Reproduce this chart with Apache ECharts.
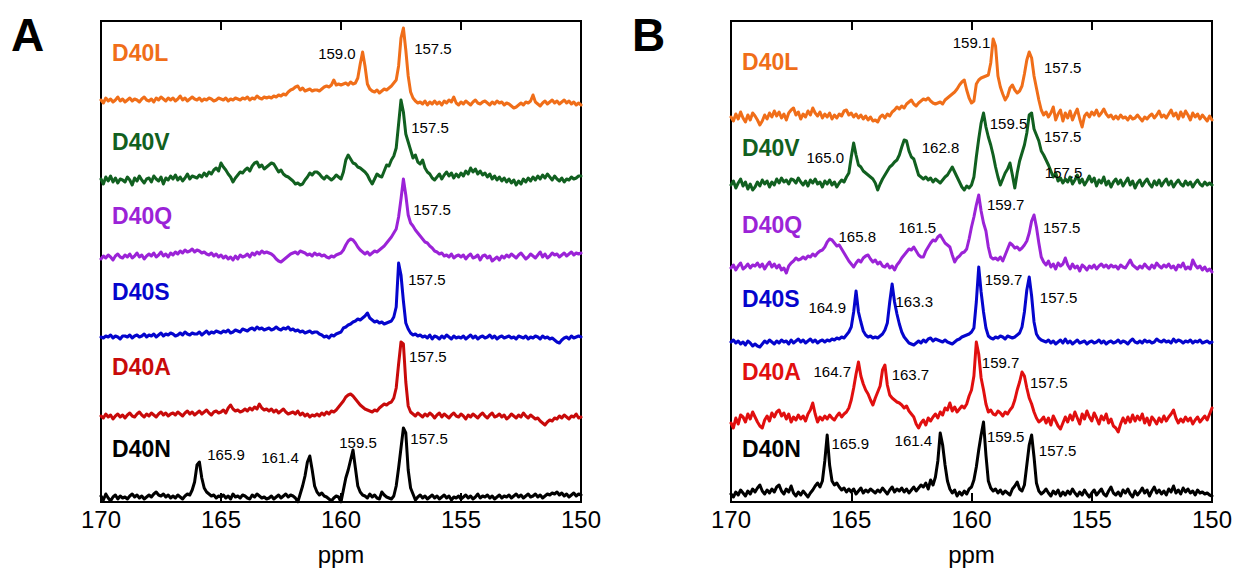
<!DOCTYPE html>
<html>
<head>
<meta charset="utf-8">
<title>13C NMR spectra of D40 variants</title>
<script src="https://cdn.jsdelivr.net/npm/echarts@6/dist/echarts.min.js"></script>
<style>
  html, body { margin: 0; padding: 0; background: #fff; }
  #chart { width: 1239px; height: 571px; }
</style>
</head>
<body>
<div id="chart"></div>
<script>
// Chemical-shift sampling of every trace: 170 ppm down to 150 ppm in 0.1 ppm steps
const ppmStart = 170;
const ppmStep = 0.1;
const axisTicks = [170, 165, 160, 155, 150];
const sampleNames = ['D40L', 'D40V', 'D40Q', 'D40S', 'D40A', 'D40N'];

// ---- Panel A intensities (arbitrary units above each trace's baseline) ----
const aD40L = [
  4,1,6,3,5,2,4,7,3,5, 2,4,6,3,5,4,2,5,7,4, 3,5,2,6,4,7,5,3,6,4, 6,3,5,8,4,6,3,5,7,5,
  4,6,3,5,4,6,5,3,4,6, 5,4,6,3,5,4,6,5,4,6, 5,7,4,6,5,8,6,5,7,6, 7,6,8,7,9,8,10,9,12,14,
  15,17,18,14,16,13,14,15,13,14, 14,13,15,17,18,17,19,24,19,20, 19,20,21,19,22,20,21,26,40,52,
  38,20,15,13,12,14,11,13,15,14, 16,18,21,24,38,66,76,54,28,12, 6,3,1,2,0,3,-1,2,0,3,
  0,2,-1,3,1,4,2,7,1,-1, 2,0,3,1,-1,2,4,1,0,2, 3,1,-1,2,0,3,1,2,-1,1, 0,-2,-4,-3,-1,1,-1,2,1,3,
  9,2,0,-2,1,3,0,2,4,1, 3,0,2,4,1,3,0,2,-1,1,-1
];
const aD40V = [
  3,-2,5,1,6,0,4,-1,3,2, 0,5,2,-3,4,1,6,2,-1,3, 4,0,6,3,1,5,-2,4,2,6, 3,7,2,5,1,4,8,3,6,5,
  4,7,5,9,6,10,8,12,14,11, 19,15,12,8,5,0,4,7,10,9, 12,14,11,16,19,20,15,17,13,15, 17,19,18,14,10,12,8,6,5,3,
  1,-2,-1,-3,-2,2,5,9,7,10, 10,8,5,3,6,4,2,4,7,5, 3,10,22,27,23,19,18,15,14,12,
  10,7,2,-2,3,8,6,5,11,17, 16,22,26,34,58,82,70,48,40,32, 24,27,20,18,22,14,10,8,4,2,
  5,8,3,7,10,6,9,4,8,5, 9,6,11,8,14,10,13,8,11,7, 9,5,8,3,6,2,5,1,4,0, 3,-1,2,-3,1,-2,3,0,4,1,
  5,2,6,3,7,4,8,5,2,6, 3,1,4,0,3,2,5,3,4,6,6
];
const aD40Q = [
  -2,1,-1,2,0,-3,1,3,0,-1, 2,0,3,-1,1,4,0,2,-2,1, 3,1,4,0,2,5,1,3,0,4, 2,5,3,6,4,7,5,6,8,5,
  7,6,4,5,3,2,4,1,3,0, 2,-1,1,-2,0,-3,1,-2,2,0, 1,3,0,4,2,5,3,6,4,5, 4,3,1,-2,-4,-5,-3,-1,1,3,
  4,5,3,6,5,4,2,3,1,4, 2,3,1,2,0,-1,1,0,2,3, 4,7,12,16,18,17,14,10,7,5,
  3,5,2,4,6,5,7,9,11,14, 17,20,24,28,40,58,78,62,42,34, 31,27,24,21,18,15,14,11,9,6,
  5,3,4,1,2,0,3,-1,1,2, 0,2,-2,1,3,-1,0,2,-3,1, 2,-1,1,-4,-2,0,-3,1,-1,2, 0,3,1,-1,2,4,1,-2,0,3,
  1,-1,2,5,0,3,-1,1,4,2, 3,0,2,4,1,3,5,2,4,3,4
];
const aD40S = [
  0,-1,1,0,2,-1,1,0,-2,1, 1,0,2,-1,1,2,0,1,3,0, 2,1,3,0,2,4,1,3,2,4, 3,1,2,4,2,5,3,2,4,3,
  3,5,2,4,6,3,5,4,6,5, 4,6,5,7,4,5,7,6,5,8, 7,6,8,9,7,10,8,9,7,8, 9,7,8,10,8,7,9,8,10,7,
  8,6,7,5,6,4,5,6,4,5, 5,3,2,0,1,-1,2,1,3,4, 5,9,10,12,13,15,16,18,17,19,
  21,24,19,17,15,16,14,15,13,14, 15,16,20,30,74,62,36,14,8,4, 2,3,1,2,0,1,-1,2,-2,1,
  0,-2,1,-1,2,0,-2,1,-1,0, -1,1,-2,0,2,-1,1,-2,0,1, -1,0,2,-1,1,-2,0,1,-1,0, 1,-1,0,-2,1,0,-1,1,-2,0,
  -1,1,0,-2,1,-1,0,-2,-1,-3, -5,-6,-3,-1,0,-2,1,-1,0,1,0
];
const aD40A = [
  0,-2,2,-1,1,-3,0,2,-1,1, -2,1,3,0,-1,2,4,1,-1,2, 0,3,1,-1,2,4,1,3,0,2, 3,1,4,2,0,3,5,2,4,1,
  3,5,2,4,6,3,1,4,5,3, 4,6,3,8,11,7,5,6,4,5, 7,5,8,6,9,7,12,8,6,7, 5,7,4,6,3,5,7,4,2,3,
  4,2,5,1,3,0,2,-1,1,0, 2,0,3,1,4,2,5,4,6,9, 12,15,19,21,22,20,17,14,11,9,
  7,6,5,4,6,5,8,10,12,11, 13,14,18,28,52,74,72,34,10,4, 2,0,3,1,-1,2,0,3,1,-2,
  1,3,-1,2,0,-2,1,3,0,-1, 2,0,-3,1,-1,2,0,-2,1,3, 0,-2,1,3,-1,0,2,-1,1,-3, -1,2,0,-2,1,-1,3,0,-2,1,
  -1,-3,-2,-5,-7,-9,-6,-4,-5,-2, -3,0,-2,1,-1,-3,0,-1,2,-2,-1
];
const aD40N = [
  2,-2,4,0,-3,1,3,-1,2,0, 1,-1,2,4,1,3,0,2,-1,1, 3,1,4,6,3,2,4,1,3,0, 2,0,3,1,-1,2,4,3,8,16,
  33,36,20,10,6,4,2,3,0,2, 1,3,0,2,-1,4,1,2,0,3, 2,0,-1,3,1,4,2,0,1,-1, 0,2,-1,1,3,0,2,4,1,3,
  2,0,-4,4,12,22,36,42,28,12, 6,3,5,2,1,-1,-3,0,2,1, -4,8,20,28,38,48,30,12,6,3,
  2,0,4,1,3,0,-1,6,3,1, 0,-1,2,12,30,50,70,65,28,10, 4,-2,1,3,0,2,-1,1,3,0,
  2,-1,1,3,0,2,-2,1,0,2, -1,1,3,0,2,-1,1,4,0,2, 1,3,0,2,-1,1,3,0,2,1, 3,0,2,4,1,3,0,2,4,1,
  2,4,1,3,0,2,4,3,5,4, 6,3,5,2,4,1,3,5,2,4,3
];

// ---- Panel B intensities ----
const bD40L = [
  1,-3,4,-1,6,0,-4,3,-2,5, 2,-2,-7,-3,3,-1,5,1,7,2, 6,0,4,-2,5,8,10,3,6,-1, 4,1,7,3,10,5,2,6,0,4,
  1,5,-1,3,0,4,2,7,8,3, 5,1,4,0,3,-1,2,-2,1,-3, -2,-4,1,3,0,4,2,6,8,11, 9,12,10,14,16,18,14,12,15,17,
  19,18,20,17,15,14,15,16,14,18, 20,22,24,26,29,33,36,38,28,20, 15,17,34,38,40,41,42,43,55,79,
  72,42,31,24,18,22,30,33,28,25, 27,32,44,58,66,60,42,30,18,8, 3,6,1,5,11,-2,4,8,-3,5,
  0,7,-2,4,9,-1,-9,2,5,1, 6,3,8,2,5,9,4,1,3,-1, 2,-1,3,0,1,-2,2,-1,0,3, 0,-3,1,-1,2,4,0,3,7,1,
  3,0,4,8,2,5,-1,6,1,7, 3,-2,5,1,4,-1,3,0,-3,2,-2
];
const bD40V = [
  0,4,-3,2,6,-1,3,-4,1,-5, -2,3,-1,5,1,4,-2,3,0,6, 2,7,3,5,1,6,5,2,7,3, 0,4,-1,5,2,6,1,3,-2,4,
  1,5,0,3,-2,2,5,3,8,12, 28,42,30,20,18,14,12,10,8,6, 2,-5,1,6,10,14,18,20,23,25, 30,38,45,44,34,28,26,18,10,8,
  6,8,5,7,3,6,4,2,5,8, 10,14,18,13,8,3,-2,-5,-1,-3, 0,8,28,46,62,72,58,48,40,30,
  18,8,0,6,12,16,22,10,-3,12, 24,32,40,52,70,72,56,50,44,34, 30,25,20,14,8,12,4,7,2,6,
  3,8,1,5,10,2,6,0,4,9, 3,7,-1,5,2,8,0,4,-2,3, 6,1,5,-1,3,7,0,4,-3,2, 5,-1,3,6,1,-2,4,0,5,-1,
  3,6,0,4,-2,2,5,1,-1,4, 0,3,-2,2,5,1,-1,3,0,2,0
];
const bD40Q = [
  -1,2,-3,1,4,-2,0,3,-1,2, 1,4,0,3,-2,2,5,0,3,-1, 2,-3,-1,-6,1,4,6,9,7,8, 10,8,11,10,13,11,14,16,17,20,
  25,28,27,24,21,22,18,14,10,6, 3,0,4,7,5,9,11,12,8,5, 7,3,5,1,0,3,-1,1,-3,2, 5,9,12,15,18,17,20,16,12,10,
  10,16,20,24,27,26,30,32,28,24, 22,20,12,5,9,11,14,15,18,28, 40,50,62,72,56,44,36,20,10,8,
  9,7,10,6,12,18,24,22,19,20, 17,19,22,26,34,46,52,40,24,10, 5,2,6,0,3,-2,4,1,3,9,
  2,-2,3,-1,1,-4,2,0,-3,1, -1,2,-2,1,3,0,2,-1,2,0, 1,-2,2,0,-1,3,7,2,0,-2, 1,-1,3,0,-2,2,-1,4,1,-1,
  2,0,3,-1,1,-3,2,0,4,-2, 0,-2,7,2,-1,1,-3,0,-4,-2,-5
];
const bD40S = [
  0,2,-1,1,-2,0,-3,1,-1,-4, -2,-4,-5,-2,1,-1,2,0,-2,1, -1,2,0,1,-2,2,-1,1,3,0, 2,-1,1,3,0,2,-1,1,2,0,
  2,1,3,2,4,3,5,4,7,10, 15,30,51,30,20,11,7,5,6,4, 5,4,6,8,12,19,40,58,40,28, 18,10,5,2,-1,-2,-3,-1,1,-1,
  2,0,3,4,1,3,2,1,0,2, 0,-1,-2,0,2,3,5,6,7,8, 10,14,40,75,50,30,14,6,4,3,
  5,4,6,5,3,6,5,4,5,7, 9,15,30,52,65,46,20,8,4,2, 1,0,2,-1,1,-2,0,2,-1,3,
  -1,1,-2,0,2,-1,0,1,-2,0, 1,-1,0,2,-1,1,-2,0,1,-1, 0,2,-1,1,0,-2,1,3,0,-1, 1,-1,2,0,1,-1,0,3,1,0,
  2,0,1,-1,3,0,2,1,-1,1, 0,2,-1,1,0,2,-1,0,1,-1,0
];
const bD40A = [
  -3,-8,2,-4,5,3,-2,6,1,8, 3,-2,-6,-8,0,4,-1,7,3,8, 10,4,7,1,6,-2,3,0,5,1, 4,-1,6,10,17,6,-2,3,0,4,
  1,5,2,0,4,7,3,6,8,12, 20,32,46,58,44,36,30,26,20,15, 22,28,34,50,55,35,25,22,20,18, 17,15,12,14,9,6,3,-4,-8,-3,
  0,-5,2,-1,3,6,2,8,5,12, 10,17,9,13,8,11,14,12,16,24, 30,44,78,66,42,30,16,8,10,6,
  5,9,7,4,8,6,10,13,20,30, 38,48,44,32,22,16,8,2,-2,0, 3,-3,2,-5,4,-1,-6,-9,-3,3,
  -2,5,0,8,2,-4,6,1,9,3, -1,7,2,-4,4,0,6,-3,1,-6, -8,-12,-4,2,-3,3,-2,5,-1,4, 0,6,-3,2,-5,3,0,-4,2,-2,
  4,-1,3,6,10,2,-3,1,-2,3, -1,2,-4,0,3,-2,1,4,0,6,12
];
const bD40N = [
  1,-2,3,0,5,2,-1,4,1,6, 3,7,10,4,1,5,2,6,3,8, 10,4,1,6,3,9,2,-1,3,0, 4,1,-2,2,5,9,12,8,14,34,
  60,30,14,10,12,8,5,7,3,6, 3,6,1,4,7,2,5,3,6,4, 2,5,3,7,4,1,5,8,3,6, 4,7,3,6,2,5,8,4,7,10,
  8,12,6,15,10,18,34,62,50,30, 14,6,2,5,-1,3,0,4,1,6, 8,15,28,45,60,73,40,14,7,4,
  6,2,5,1,4,2,0,6,9,13, 6,4,10,30,50,60,38,12,4,1, 3,6,2,-1,4,1,5,-1,3,0,
  4,1,6,2,-1,3,0,5,1,-2, 2,5,0,3,6,1,-1,4,8,2, 0,3,-1,5,2,6,1,-2,4,0, 3,7,2,5,-1,4,8,2,5,1,
  4,0,6,3,9,2,5,1,7,3, 6,2,4,0,5,2,3,1,2,0,-1
];

// Vertical stacking of the traces (same order as sampleNames)
const stackA = [398, 320, 245, 165, 86, 4];
const stackB = [384, 317, 235, 160, 82, 7];

// Peak annotations (chemical shift text) per trace
const peakTextA = [['159.0', '157.5'], ['157.5'], ['157.5'], ['157.5'], ['157.5'], ['165.9', '161.4', '159.5', '157.5']];
const peakTextB = [
  ['159.1', '157.5'],
  ['165.0', '162.8', '159.5', '157.5', '157.5'],
  ['165.8', '161.5', '159.7', '157.5'],
  ['164.9', '163.3', '159.7', '157.5'],
  ['164.7', '163.7', '159.7', '157.5'],
  ['165.9', '161.4', '159.5', '157.5']
];

// ---- layout and styling ----
const FONT = '"Liberation Sans", Arial, Helvetica, sans-serif';
const traceColorsA = ['#f06e19', '#116020', '#9b23d7', '#0505cd', '#c80a0a', '#000000'];
const traceColorsB = ['#f06e19', '#116020', '#9b23d7', '#0505cd', '#e10f0f', '#000000'];
// where each annotation sits, in [ppm, axis units]
const peakSpotsA = [
  [[160.17, 449], [156.17, 454]],
  [[156.29, 375]],
  [[156.21, 293]],
  [[156.42, 223]],
  [[156.38, 146]],
  [[164.79, 48], [162.54, 45], [159.29, 60], [156.33, 64]]
];
const peakSpotsB = [
  [[160.0, 460], [156.21, 435]],
  [[166.08, 345], [161.29, 355], [158.46, 379], [156.21, 366], [156.17, 330]],
  [[164.75, 266], [162.25, 275], [158.58, 298], [156.25, 275]],
  [[166.0, 195], [162.38, 201], [158.67, 223], [156.38, 205]],
  [[165.79, 131], [162.54, 128], [158.79, 140], [156.79, 120]],
  [[165.04, 59], [162.42, 62], [158.58, 66], [156.42, 52]]
];
const nameSpotsA = [449, 360, 286, 210, 135, 53];
const nameSpotsB = [440, 354, 277, 203, 130, 53];
const nameX = 169.54;

function ppmAt(i) {
  return Math.round((ppmStart - i * ppmStep) * 10) / 10;
}

const grids = [
  { left: 101, top: 21, width: 480, height: 481 },
  { left: 731, top: 21, width: 481, height: 481 }
].map(g => Object.assign(g, {
  show: true, borderColor: '#000', borderWidth: 2, backgroundColor: 'transparent',
  containLabel: false, outerBoundsMode: 'none'
}));

const xAxes = [];
const yAxes = [];
[0, 1].forEach(p => {
  const common = {
    gridIndex: p, type: 'value', min: axisTicks[axisTicks.length - 1], max: axisTicks[0],
    interval: 5, inverse: true,
    axisLine: { show: true, lineStyle: { color: '#000', width: 2 } },
    axisTick: { show: true, inside: true, length: 9, lineStyle: { color: '#000', width: 2 } },
    splitLine: { show: false }
  };
  xAxes.push(Object.assign({}, common, {
    position: 'bottom',
    axisLabel: { show: true, fontSize: 24, color: '#000', fontFamily: FONT, margin: 5 },
    name: 'ppm', nameLocation: 'middle', nameGap: 40,
    nameTextStyle: { fontSize: 24, color: '#000', fontFamily: FONT }
  }));
  xAxes.push(Object.assign({}, common, {
    position: 'top', axisLabel: { show: false }
  }));
  yAxes.push({
    gridIndex: p, type: 'value', min: 0, max: 481, show: false,
    splitLine: { show: false }
  });
});

const series = [];
function addPanel(p, spectra, stack, colors, peakText, peakSpots, nameSpots) {
  spectra.forEach((vals, k) => {
    series.push({
      type: 'line', xAxisIndex: 2 * p, yAxisIndex: p,
      name: sampleNames[k],
      data: vals.map((v, i) => [ppmAt(i), v + stack[k]]),
      symbol: 'none', showSymbol: false, silent: true, z: 2,
      lineStyle: { color: colors[k], width: 3, opacity: 1, join: 'round', cap: 'round' }
    });
  });
  // peak shift annotations
  const notes = [];
  peakText.forEach((texts, k) => texts.forEach((t, j) => {
    notes.push({ value: peakSpots[k][j], name: t });
  }));
  series.push({
    type: 'scatter', xAxisIndex: 2 * p, yAxisIndex: p, symbolSize: 0, silent: true, z: 5,
    itemStyle: { opacity: 1 },
    data: notes,
    label: {
      show: true, position: 'inside', formatter: '{b}', color: '#000', opacity: 1,
      fontSize: 15, fontFamily: FONT, align: 'center', verticalAlign: 'middle'
    }
  });
  // sample names
  series.push({
    type: 'scatter', xAxisIndex: 2 * p, yAxisIndex: p, symbolSize: 0, silent: true, z: 5,
    itemStyle: { opacity: 1 },
    data: sampleNames.map((n, k) => ({
      value: [nameX, nameSpots[k]], name: n,
      label: { color: colors[k] }
    })),
    label: {
      show: true, position: 'right', distance: 0, formatter: '{b}', opacity: 1,
      fontSize: 23, fontWeight: 'bold', fontFamily: FONT, verticalAlign: 'middle'
    }
  });
}

addPanel(0, [aD40L, aD40V, aD40Q, aD40S, aD40A, aD40N], stackA, traceColorsA, peakTextA, peakSpotsA, nameSpotsA);
addPanel(1, [bD40L, bD40V, bD40Q, bD40S, bD40A, bD40N], stackB, traceColorsB, peakTextB, peakSpotsB, nameSpotsB);

const chart = echarts.init(document.getElementById('chart'), null, { renderer: 'svg' });
chart.setOption({
  backgroundColor: '#fff',
  animation: false,
  grid: grids,
  xAxis: xAxes,
  yAxis: yAxes,
  series: series,
  graphic: [
    { type: 'text', left: 11, top: 12, style: { text: 'A', font: 'bold 46px ' + FONT, fill: '#000' } },
    { type: 'text', left: 632, top: 12, style: { text: 'B', font: 'bold 46px ' + FONT, fill: '#000' } }
  ]
});
</script>
</body>
</html>
